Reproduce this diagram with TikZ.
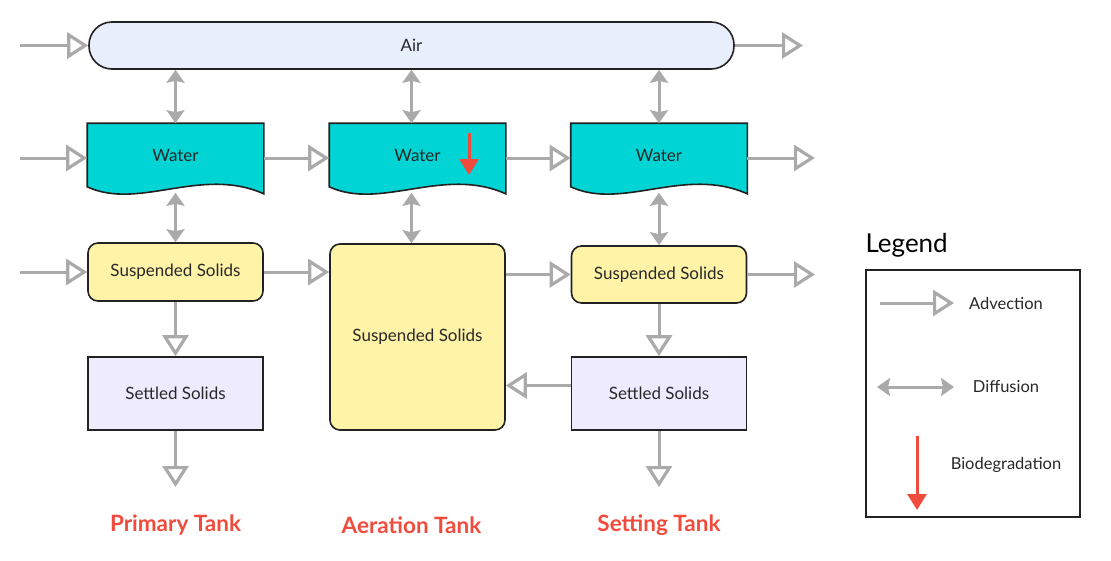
\documentclass[tikz,border=0pt]{standalone}
\usepackage{fontspec}
\setmainfont{Lato}
\usetikzlibrary{arrows.meta,positioning,backgrounds}
\definecolor{edge}{RGB}{34,34,34}
\definecolor{txt}{RGB}{40,40,40}
\definecolor{airblue}{RGB}{232,238,252}
\definecolor{water}{RGB}{0,212,212}
\definecolor{ssyellow}{RGB}{255,243,168}
\definecolor{settled}{RGB}{238,235,255}
\definecolor{flowgray}{RGB}{170,170,170}
\definecolor{biored}{RGB}{240,75,60}
\tikzset{
  base/.style={draw=edge, line width=1.6pt, text=txt, font=\fontsize{17}{20}\selectfont, minimum width=175pt, inner sep=0pt},
  airbox/.style={base, fill=airblue, rounded corners=23pt, minimum width=645pt, minimum height=47pt},
  waterbox/.style={base, draw=none, minimum height=62pt},
  ssbox/.style={base, fill=ssyellow, rounded corners=10pt},
  settledbox/.style={base, fill=settled, minimum height=73pt},
  adv/.style={draw=flowgray, line width=3pt, -{Triangle[open, length=21pt, width=26pt, line width=3.2pt, fill=white]}},
  dif/.style={draw=flowgray, line width=3pt, {Stealth[length=13pt, width=18pt, inset=2pt]}-{Stealth[length=13pt, width=18pt, inset=2pt]}},
  bio/.style={draw=biored, line width=3pt, -{Triangle[length=16pt, width=19pt]}},
  tank/.style={text=biored, font=\fontsize{22.5}{26}\selectfont\bfseries},
  legtext/.style={text=txt, font=\fontsize{16.5}{20}\selectfont}
}
\begin{document}
\begin{tikzpicture}[x=1pt,y=-1pt]
  \useasboundingbox (0,0) rectangle (1111,560);
  \node[airbox] (air) at (411.5,45.5) {Air};
  \node[waterbox] (w1) at (175.5,155) {Water};
  \node[waterbox] (w2) at (417.5,155) {Water};
  \node[waterbox] (w3) at (659,155) {Water};
  \begin{scope}[on background layer]
    \foreach \n in {w1,w2,w3}
      \draw[draw=edge, line width=1.6pt, fill=water] (\n.south west) -- (\n.north west) -- (\n.north east) -- ([yshift=-7pt]\n.south east) .. controls +(-63,-28) and +(52,24) .. (\n.south west) -- cycle;
  \end{scope}
  \node[ssbox, minimum height=58pt] (s1) at (175.5,272) {Suspended Solids};
  \node[ssbox, minimum height=186pt] (s2) at (417.5,337) {Suspended Solids};
  \node[ssbox, minimum height=57pt] (s3) at (659,274.5) {Suspended Solids};
  \node[settledbox] (t1) at (175.5,393.5) {Settled Solids};
  \node[settledbox] (t3) at (659,393.5) {Settled Solids};

  \coordinate (airin) at (20,45.5);
  \coordinate (airout) at (803,45.5);
  \coordinate (win) at (20,158);
  \coordinate (wout) at (815,158);
  \coordinate (ssin) at (20,272);
  \coordinate (ssout) at (815,274.5);
  \coordinate (t1out) at (175.5,487);
  \coordinate (t3out) at (659,487);
  \coordinate (bioa) at (469,133);
  \coordinate (biob) at (469,175);

  \draw[adv] (airin) -- (air.west);
  \draw[adv] (air.east) -- (airout);
  \draw[adv] (win) -- (win -| w1.west);
  \draw[adv] (w1.east |- win) -- (w2.west |- win);
  \draw[adv] (w2.east |- win) -- (w3.west |- win);
  \draw[adv] (w3.east |- win) -- (wout);
  \draw[adv] (ssin) -- (s1.west);
  \draw[adv] (s1.east) -- (s1.east -| s2.west);
  \draw[adv] (s2.east |- s3.west) -- (s3.west);
  \draw[adv] (s3.east) -- (ssout);
  \draw[adv] (s1.south) -- (t1.north);
  \draw[adv] (t1.south) -- (t1out);
  \draw[adv] (s3.south) -- (t3.north);
  \draw[adv] (t3.south) -- (t3out);
  \draw[adv] ([yshift=8pt]t3.west) -- ([yshift=8pt]t3.west -| s2.east);

  \draw[dif] (air.south -| w1.north) -- (w1.north);
  \draw[dif] (air.south) -- (air.south |- w2.north);
  \draw[dif] (air.south -| w3.north) -- (w3.north);
  \draw[dif] ([yshift=-6pt]w1.south) -- (s1.north);
  \draw[dif] ([yshift=-6pt]w2.south -| air.south) -- (s2.north -| air.south);
  \draw[dif] ([yshift=-6pt]w3.south) -- (s3.north);
  \draw[bio] (bioa) -- (biob);

  \node[tank] (pt) at (175.5,525) {Primary Tank};
  \node[tank] (at) at (411.5,525) {Aeration Tank};
  \node[tank] (st) at (659,525) {Setting Tank};

  \node[anchor=west, text=black, font=\fontsize{26}{30}\selectfont] (legt) at (862,245) {Legend};
  \node[draw=edge, line width=1.6pt, minimum width=214pt, minimum height=247pt, inner sep=0pt] (leg) at (973,393.5) {};
  \coordinate (la1) at (880,303);
  \coordinate (la2) at (954,303);
  \coordinate (ld1) at (877,387);
  \coordinate (ld2) at (954,387);
  \coordinate (lb1) at (917,436);
  \coordinate (lb2) at (917,510);
  \draw[adv] (la1) -- (la2);
  \draw[dif] (ld1) -- (ld2);
  \draw[bio] (lb1) -- (lb2);
  \node[legtext] (ladv) at (1006,303) {Advection};
  \node[legtext] (ldif) at (1006,387) {Diffusion};
  \node[legtext] (lbio) at (1006,465) {Biodegradation};
\end{tikzpicture}
\end{document}
